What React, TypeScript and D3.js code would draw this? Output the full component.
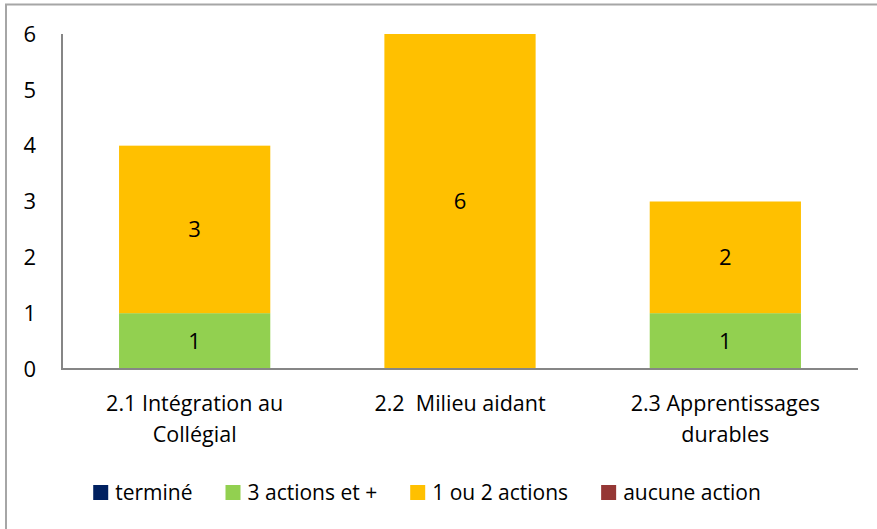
import React, { useEffect, useRef } from "react";
import * as d3 from "d3";

const categories = ["2.1 Intégration au Collégial", "2.2  Milieu aidant", "2.3 Apprentissages durables"];
const categoryLines = [["2.1 Intégration au", "Collégial"], ["2.2  Milieu aidant"], ["2.3 Apprentissages", "durables"]];
const seriesNames = ["terminé", "3 actions et +", "1 ou 2 actions", "aucune action"];
const seriesColors = ["#002060", "#92D050", "#FFC000", "#953735"];
const termine = [0, 0, 0];
const troisActions = [1, 0, 1];
const unOuDeux = [3, 6, 2];
const aucune = [0, 0, 0];
const yTicks = [0, 1, 2, 3, 4, 5, 6];

const FONT = "'Open Sans', 'Liberation Sans', sans-serif";

export default function App() {
  const ref = useRef<SVGSVGElement>(null);
  useEffect(() => {
    const svg = d3.select(ref.current);
    svg.selectAll("*").remove();
    const W = 877, H = 529;
    const left = 62, right = 858, top = 34, bottom = 369;
    const x = d3.scaleBand().domain(categories).range([left, right]).paddingInner(0.43).paddingOuter(0.215);
    const y = d3.scaleLinear().domain([0, 6]).range([bottom, top]);

    // frame
    svg.append("rect").attr("x", 6).attr("y", 4.5).attr("width", W).attr("height", H)
      .attr("fill", "white").attr("stroke", "#a6a6a6").attr("stroke-width", 2);

    const series = [termine, troisActions, unOuDeux, aucune];
    const rows = categories.map((c, i) => {
      const o: any = { cat: c };
      seriesNames.forEach((s, k) => (o[s] = series[k][i]));
      return o;
    });
    const stacked = d3.stack().keys(seriesNames)(rows);

    stacked.forEach((layer, k) => {
      layer.forEach((d, i) => {
        const v = d[1] - d[0];
        if (v <= 0) return;
        svg.append("rect")
          .attr("x", x(categories[i])!)
          .attr("width", x.bandwidth())
          .attr("y", y(d[1]))
          .attr("height", y(d[0]) - y(d[1]))
          .attr("fill", seriesColors[k]);
        svg.append("text")
          .attr("x", x(categories[i])! + x.bandwidth() / 2)
          .attr("y", (y(d[0]) + y(d[1])) / 2)
          .attr("dy", "0.35em")
          .attr("text-anchor", "middle")
          .attr("font-family", FONT).attr("font-size", 22).attr("fill", "#000")
          .text(String(v));
      });
    });

    // axes
    svg.append("line").attr("x1", left).attr("x2", left).attr("y1", top).attr("y2", bottom)
      .attr("stroke", "#868686").attr("stroke-width", 2);
    svg.append("line").attr("x1", left - 1).attr("x2", right).attr("y1", bottom).attr("y2", bottom)
      .attr("stroke", "#868686").attr("stroke-width", 2);

    yTicks.forEach((t) => {
      svg.append("text").attr("x", 36).attr("y", y(t)).attr("dy", "0.35em")
        .attr("text-anchor", "end").attr("font-family", FONT).attr("font-size", 22).attr("fill", "#000")
        .text(String(t));
    });

    categories.forEach((c, i) => {
      const t = svg.append("text").attr("text-anchor", "middle").attr("font-family", FONT)
        .attr("font-size", 21.5).attr("fill", "#000");
      categoryLines[i].forEach((line, j) => {
        t.append("tspan").attr("x", x(c)! + x.bandwidth() / 2).attr("y", 411 + j * 31)
          .style("white-space", "pre").text(line);
      });
    });

    // legend
    const lg = svg.append("g");
    let cx = 0;
    const sq = 15, gap1 = 7, gap2 = 33;
    seriesNames.forEach((s, k) => {
      lg.append("rect").attr("x", cx).attr("y", 485).attr("width", sq).attr("height", sq).attr("fill", seriesColors[k]);
      const tx = lg.append("text").attr("x", cx + sq + gap1).attr("y", 493).attr("dy", "0.35em")
        .attr("font-family", FONT).attr("font-size", 21).attr("fill", "#000").text(s);
      const w = (tx.node() as SVGTextElement).getComputedTextLength();
      cx += sq + gap1 + w + (k < seriesNames.length - 1 ? gap2 : 0);
    });
    lg.attr("transform", `translate(${427 - cx / 2},0)`);
  }, []);
  return (
    <svg ref={ref} width={877} height={529}
      style={{ position: "absolute", left: 0, top: 0, background: "white" }} />
  );
}
